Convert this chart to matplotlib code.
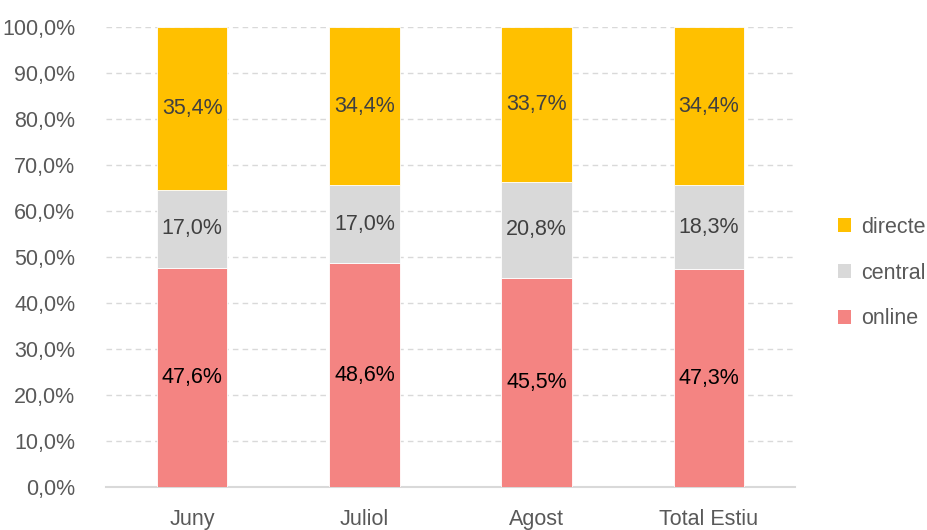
import numpy as np
import matplotlib.pyplot as plt
from matplotlib.ticker import FuncFormatter

plt.rcParams['font.family'] = ['Liberation Sans', 'DejaVu Sans']

# data
months = ['Juny', 'Juliol', 'Agost', 'Total Estiu']
online = [47.6, 48.6, 45.5, 47.3]
central = [17.0, 17.0, 20.8, 18.3]
directe = [35.4, 34.4, 33.7, 34.4]

c_online = '#F48482'
c_central = '#D9D9D9'
c_directe = '#FFC000'

fig = plt.figure(figsize=(9.27, 5.30), dpi=100)
ax = fig.add_axes([0.1144, 0.0811, 0.7432, 0.868])

x = np.arange(len(months))
w = 0.41
b1 = ax.bar(x, online, w, color=c_online, label='online', edgecolor='white', linewidth=0.6, zorder=3)
b2 = ax.bar(x, central, w, bottom=online, color=c_central, label='central', edgecolor='white', linewidth=0.6, zorder=3)
bottom3 = np.array(online) + np.array(central)
b3 = ax.bar(x, directe, w, bottom=bottom3, color=c_directe, label='directe', edgecolor='white', linewidth=0.6, zorder=3)

def fmt(v):
    return f'{v:.1f}%'.replace('.', ',')

for i in range(len(months)):
    ax.text(x[i], online[i] / 2, fmt(online[i]), ha='center', va='center', fontsize=15.5, color='#000000', zorder=4)
    ax.text(x[i], online[i] + central[i] / 2, fmt(central[i]), ha='center', va='center', fontsize=15.5, color='#404040', zorder=4)
    ax.text(x[i], bottom3[i] + directe[i] / 2, fmt(directe[i]), ha='center', va='center', fontsize=15.5, color='#404040', zorder=4)

ax.set_xlim(-0.5, len(months) - 0.5)
ax.set_ylim(0, 100)
ax.set_yticks(np.arange(0, 101, 10))
ax.yaxis.set_major_formatter(FuncFormatter(lambda v, p: fmt(v)))
ax.set_xticks(x)
ax.set_xticklabels(months)
ax.tick_params(axis='both', length=0, labelsize=15.5, labelcolor='#595959')
ax.tick_params(axis='x', pad=16)
ax.tick_params(axis='y', pad=22)

ax.grid(axis='y', color='#D9D9D9', linestyle=(0, (4, 3)), linewidth=1, zorder=0)
for s in ['left', 'right', 'top']:
    ax.spines[s].set_visible(False)
ax.spines['bottom'].set_color('#D9D9D9')
ax.spines['bottom'].set_linewidth(1.5)

handles = [b3, b2, b1]
leg = ax.legend(handles, ['directe', 'central', 'online'], loc='center left',
                bbox_to_anchor=(1.035, 0.465), frameon=False, fontsize=15.5,
                handlelength=0.6, handleheight=0.6, handletextpad=0.45,
                labelspacing=1.15, labelcolor='#595959')
for h in leg.legend_handles:
    h.set_edgecolor('none')

fig.savefig('out.png', dpi=100)
